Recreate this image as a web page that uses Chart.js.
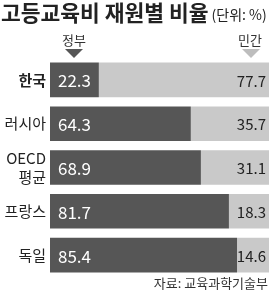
<!DOCTYPE html>
<html>
<head>
<meta charset="utf-8">
<script src="https://cdn.jsdelivr.net/npm/chart.js@4"></script>
<style>
  html, body { margin: 0; padding: 0; background: #fff; }
  #wrap { width: 270px; height: 292px; position: relative; }
</style>
</head>
<body>
<div id="wrap"><canvas id="c" width="270" height="292"></canvas></div>
<script>
// 나라별 정부 / 민간 부담 비율 (%)
const countries = [["한국"], ["러시아"], ["OECD", "평균"], ["프랑스"], ["독일"]];
const govShare = [22.3, 64.3, 68.9, 81.7, 85.4];
const privShare = [77.7, 35.7, 31.1, 18.3, 14.6];
const seriesNames = ["정부", "민간"];

const FONT = '"Noto Sans CJK KR", "Noto Sans", sans-serif';
const DARK = '#565656';
const LIGHT = '#c9c9c9';

// 제목, 범례, 값, 출처를 직접 그림
const labelPlugin = {
    id: 'labels',
    afterDraw(chart) {
        const ctx = chart.ctx;
        const yScale = chart.scales.y;
        ctx.save();

        // 제목
        ctx.fillStyle = '#222';
        ctx.textBaseline = 'alphabetic';
        ctx.textAlign = 'left';
        ctx.font = 'bold 21.5px ' + FONT;
        ctx.fillText('고등교육비 재원별 비율', 1, 21);
        const tw = ctx.measureText('고등교육비 재원별 비율').width;
        ctx.font = '14px ' + FONT;
        ctx.fillText('(단위: %)', tw + 4, 20);

        // 범례 (삼각형)
        ctx.font = '13px ' + FONT;
        ctx.textAlign = 'center';
        ctx.fillStyle = '#333';
        ctx.fillText(seriesNames[0], 74, 45);
        ctx.fillText(seriesNames[1], 250, 45);
        const tri = (cx, color) => {
            ctx.fillStyle = color;
            ctx.beginPath();
            ctx.moveTo(cx - 9, 49);
            ctx.lineTo(cx + 9, 49);
            ctx.lineTo(cx, 58);
            ctx.closePath();
            ctx.fill();
        };
        tri(74, DARK);
        tri(251, '#bdbdbd');

        // 나라 이름
        ctx.textAlign = 'right';
        ctx.textBaseline = 'middle';
        ctx.fillStyle = '#222';
        countries.forEach((lines, i) => {
            const y = yScale.getPixelForValue(i);
            ctx.font = (i === 0 ? 'bold ' : '') + '15px ' + FONT;
            if (lines.length === 1) {
                ctx.fillText(lines[0], 46, y);
            } else {
                ctx.fillText(lines[0], 46, y - 9);
                ctx.fillText(lines[1], 46, y + 10);
            }
        });

        // 막대 값
        const govBars = chart.getDatasetMeta(0).data;
        const privBars = chart.getDatasetMeta(1).data;
        govBars.forEach((bar, i) => {
            ctx.font = '17px ' + FONT;
            ctx.textAlign = 'left';
            ctx.fillStyle = '#fff';
            ctx.fillText(govShare[i].toFixed(1), bar.base + 8, bar.y + 1);
            ctx.font = '15px ' + FONT;
            ctx.textAlign = 'right';
            ctx.fillStyle = '#222';
            ctx.fillText(privShare[i].toFixed(1), privBars[i].x - 3, bar.y + 1);
        });

        // 출처
        ctx.font = '13px ' + FONT;
        ctx.textAlign = 'right';
        ctx.fillStyle = '#333';
        ctx.fillText('자료: 교육과학기술부', 268, 283);
        ctx.restore();
    }
};

new Chart(document.getElementById('c'), {
    type: 'bar',
    data: {
        labels: countries.map(c => c.join(' ')),
        datasets: [
            { label: seriesNames[0], data: govShare, backgroundColor: DARK },
            { label: seriesNames[1], data: privShare, backgroundColor: LIGHT }
        ]
    },
    options: {
        indexAxis: 'y',
        responsive: false,
        animation: false,
        layout: { padding: { left: 50, right: 1, top: 58, bottom: 15 } },
        barPercentage: 0.79,
        categoryPercentage: 1,
        plugins: { legend: { display: false }, tooltip: { enabled: false } },
        scales: {
            x: { stacked: true, min: 0, max: 100, display: false },
            y: { stacked: true, display: false }
        }
    },
    plugins: [labelPlugin]
});
</script>
</body>
</html>
